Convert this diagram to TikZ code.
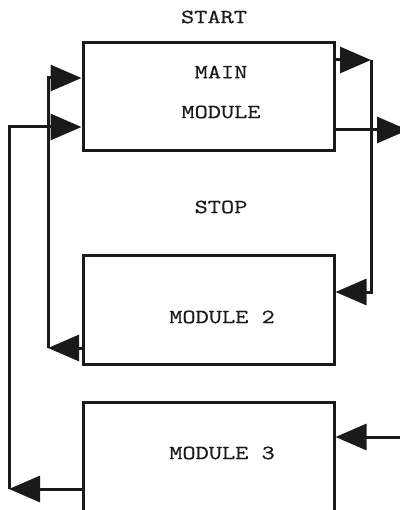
\documentclass[tikz,border=0pt]{standalone}
\usepackage{fontspec}
\setmonofont[FakeStretch=1.28,FakeBold=0.6]{Latin Modern Mono}
\usetikzlibrary{arrows.meta}
\definecolor{ink}{HTML}{1A1A1A}
\tikzset{
  modbox/.style={draw=ink, line width=3pt, rectangle, minimum width=251pt, inner sep=0pt},
  lbl/.style={font=\ttfamily\fontsize{20pt}{24pt}\selectfont, text=ink, inner sep=0pt},
  conn/.style={draw=ink, line width=3pt, -{Triangle[length=31pt,width=26pt]}, line join=miter},
  wire/.style={draw=ink, line width=3pt, line join=miter}
}
\begin{document}
\begin{tikzpicture}[x=1pt,y=-1pt]
\useasboundingbox (0,0) rectangle (399,510);
\fill[white] (0,0) rectangle (399,510);
% boxes
\node[modbox, minimum height=108pt] (main) at (208.5,97) {};
\node[modbox, minimum height=109pt] (m2) at (208.5,309.5) {};
\node[modbox, minimum height=112pt] (m3) at (208.5,458) {};
% texts
\node[lbl] (start) at (214,17) {START};
\node[lbl] (maintxt) at (221,72) {MAIN};
\node[lbl] (mainmod) at (221,112) {MODULE};
\node[lbl] (stop) at (221,207) {STOP};
\node[lbl] (m2txt) at (222,317) {MODULE 2};
\node[lbl] (m3txt) at (222,453) {MODULE 3};
% coordinates
\coordinate (rt) at (371,60);
\coordinate (out) at (408,130);
\coordinate (lm) at (48,348);
\coordinate (lb) at (9,489);
\coordinate (in3) at (400,437);
% right side
\draw[wire] (main.east |- rt) -- (342,60);
\draw[conn] (338,60) -- (rt);
\draw[conn] (rt) |- (m2.east |- 0,292);
\draw[conn] (main.east |- out) -- (out);
\draw[conn] (in3) -- (m3.east |- in3);
% left side
\draw[conn] (m2.west |- lm) -- (lm);
\draw[conn] (lm) |- (main.west |- 0,78);
\draw[conn] (m3.west |- lb) -- (lb);
\draw[conn] (lb) |- (main.west |- 0,127);
\end{tikzpicture}
\end{document}
